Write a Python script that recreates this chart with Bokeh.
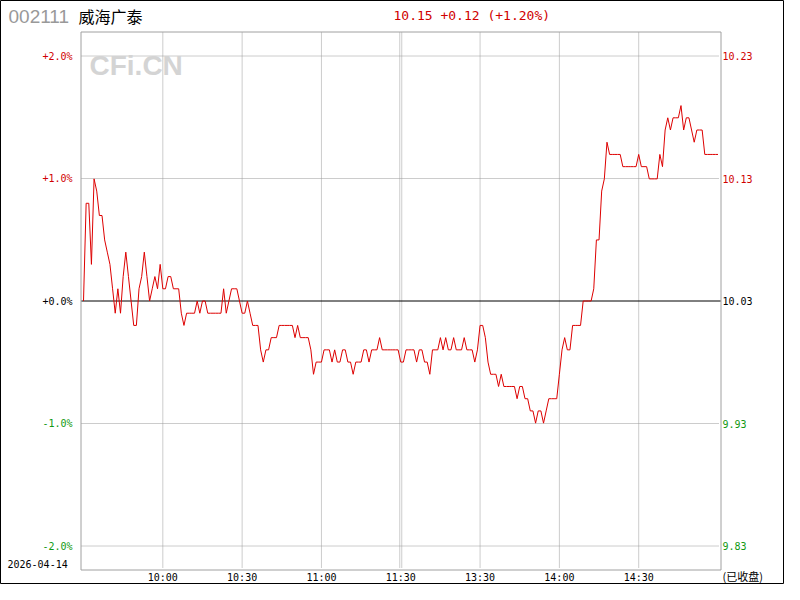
from bokeh.plotting import figure
from bokeh.models import Range1d, ColumnDataSource
from bokeh.core.properties import value
from bokeh.embed import file_html
from bokeh.resources import INLINE

# ---------------- data ----------------
stock_code = "002111"
stock_name = "威海广泰"
trade_date = "2026-04-14"
status_text = "(已收盘)"
watermark = "CFi.CN"
prev_close = 10.03
last_price = 10.15

# one price per minute, 09:30 .. 11:30, 13:01 .. 15:00
prices = [
    10.03, 10.11, 10.11, 10.06, 10.13, 10.12, 10.10, 10.10, 10.08, 10.07,
    10.06, 10.04, 10.02, 10.04, 10.02, 10.05, 10.07, 10.05, 10.03, 10.01,
    10.01, 10.04, 10.05, 10.07, 10.05, 10.03, 10.04, 10.05, 10.04, 10.06,
    10.04, 10.04, 10.05, 10.05, 10.04, 10.04, 10.04, 10.02, 10.01, 10.02,
    10.02, 10.02, 10.02, 10.03, 10.02, 10.03, 10.03, 10.02, 10.02, 10.02,
    10.02, 10.02, 10.02, 10.04, 10.02, 10.03, 10.04, 10.04, 10.04, 10.03,
    10.02, 10.02, 10.03, 10.02, 10.01, 10.01, 10.01, 9.99, 9.98, 9.99,
    9.99, 10.00, 10.00, 10.00, 10.01, 10.01, 10.01, 10.01, 10.01, 10.01,
    10.00, 10.01, 10.00, 10.00, 10.00, 10.00, 9.99, 9.97, 9.98, 9.98,
    9.98, 9.99, 9.99, 9.99, 9.98, 9.99, 9.98, 9.98, 9.99, 9.99,
    9.98, 9.98, 9.97, 9.98, 9.98, 9.98, 9.99, 9.99, 9.98, 9.99,
    9.99, 9.99, 10.00, 9.99, 9.99, 9.99, 9.99, 9.99, 9.99, 9.99,
    9.98, 9.98, 9.99, 9.99, 9.99, 9.99, 9.98, 9.99, 9.99, 9.98,
    9.98, 9.97, 9.99, 9.99, 9.99, 10.00, 9.99, 10.00, 9.99, 9.99,
    10.00, 9.99, 9.99, 9.99, 10.00, 9.99, 9.99, 9.99, 9.98, 9.99,
    10.01, 10.01, 10.00, 9.98, 9.97, 9.97, 9.97, 9.96, 9.97, 9.96,
    9.96, 9.96, 9.96, 9.96, 9.95, 9.96, 9.96, 9.95, 9.95, 9.94,
    9.94, 9.93, 9.94, 9.94, 9.93, 9.94, 9.95, 9.95, 9.95, 9.95,
    9.97, 9.99, 10.00, 9.99, 9.99, 10.01, 10.01, 10.01, 10.01, 10.03,
    10.03, 10.03, 10.03, 10.04, 10.08, 10.08, 10.12, 10.13, 10.16, 10.15,
    10.15, 10.15, 10.15, 10.15, 10.14, 10.14, 10.14, 10.14, 10.14, 10.14,
    10.15, 10.14, 10.14, 10.14, 10.13, 10.13, 10.13, 10.13, 10.15, 10.14,
    10.17, 10.18, 10.17, 10.18, 10.18, 10.18, 10.19, 10.17, 10.18, 10.18,
    10.17, 10.16, 10.17, 10.17, 10.17, 10.15, 10.15, 10.15, 10.15, 10.15,
    10.15,
]
minutes = list(range(len(prices)))

pct_ticks = [2.0, 1.0, 0.0, -1.0, -2.0]
time_tick_minutes = [30, 60, 90, 120, 150, 180, 210]
time_tick_labels = ["10:00", "10:30", "11:00", "11:30", "13:30", "14:00", "14:30"]

# ---------------- layout (picture pixels) ----------------
W, H = 784, 584
X0 = 83.0          # x of 09:30
PX_MIN = 2.6438    # px per minute
Y0 = 300.5         # y of previous close (pixel centre)
PX_PCT = 122.5     # px per 1 %
PPX = prev_close / 100.0 / PX_PCT


def wx(px):
    return (px - X0) / PX_MIN


def wy(py):
    return prev_close + (Y0 - py) * PPX


RED = "#d00000"
GREEN = "#119911"
GRID = "#999999"
FRAME = "#a0a0a0"
MONO = value("DejaVu Sans Mono")

p = figure(width=W, height=H, title=None,
           x_range=Range1d(wx(0), wx(W)),
           y_range=Range1d(wy(H), wy(0)),
           x_axis_location=None, y_axis_location=None,
           min_border=0, toolbar_location=None, output_backend="svg",
           background_fill_color="white", border_fill_color="white",
           outline_line_color="black", outline_line_width=1)
p.grid.visible = False

# dotted horizontal grid
h_levels = [prev_close * (1 + t / 100.0) for t in pct_ticks if t != 0]
p.segment(x0=[wx(81)] * len(h_levels), x1=[wx(719)] * len(h_levels),
          y0=h_levels, y1=h_levels, line_color=GRID, line_width=1, line_dash="1 1")
# dotted vertical grid (double line at the lunch break)
v_pos = []
for m in time_tick_minutes:
    if m == 120:
        v_pos += [m - 0.38, m + 0.38]
    else:
        v_pos.append(m)
p.segment(x0=v_pos, x1=v_pos, y0=[wy(32)] * len(v_pos), y1=[wy(568)] * len(v_pos),
          line_color=GRID, line_width=1, line_dash="1 1")

# plot frame
p.quad(left=[wx(80.5)], right=[wx(720.5)], top=[wy(31.5)], bottom=[wy(569.5)],
       fill_color=None, line_color=FRAME, line_width=1)

# zero line
p.segment(x0=[wx(81)], x1=[wx(720)], y0=[prev_close], y1=[prev_close],
          line_color="black", line_width=1)

# price line
p.line(minutes, prices, line_color="#dd0000", line_width=1)

# tick labels
tick_prices = [prev_close * (1 + t / 100.0) for t in pct_ticks]
tick_colors = [RED if t > 0 else ("black" if t == 0 else GREEN) for t in pct_ticks]
left_src = ColumnDataSource(dict(
    x=[wx(72)] * len(pct_ticks), y=tick_prices,
    text=[f"{t:+.1f}%" for t in pct_ticks], color=tick_colors))
p.text(x="x", y="y", text="text", text_color="color", source=left_src,
       text_font=MONO, text_font_size=value("10px"),
       text_align="right", text_baseline="middle")
right_src = ColumnDataSource(dict(
    x=[wx(722)] * len(pct_ticks), y=tick_prices,
    text=[f"{v:.2f}" for v in tick_prices], color=tick_colors))
p.text(x="x", y="y", text="text", text_color="color", source=right_src,
       text_font=MONO, text_font_size=value("10px"),
       text_align="left", text_baseline="middle")

# time labels
p.text(x=time_tick_minutes, y=[wy(577)] * len(time_tick_minutes), text=time_tick_labels,
       text_color="black", text_font=MONO, text_font_size=value("10px"),
       text_align="center", text_baseline="middle")

# date / status
p.text(x=[wx(7)], y=[wy(563)], text=[trade_date], text_color="black",
       text_font=MONO, text_font_size=value("10px"),
       text_align="left", text_baseline="middle")
p.text(x=[wx(722)], y=[wy(575)], text=[status_text], text_color="black",
       text_font=value("Noto Sans CJK SC"), text_font_size=value("11px"),
       text_align="left", text_baseline="middle")

# header
p.text(x=[wx(8)], y=[wy(16)], text=[stock_code], text_color="#999999",
       text_font=value("Liberation Sans"), text_font_size=value("19px"),
       text_align="left", text_baseline="middle")
p.text(x=[wx(78)], y=[wy(15)], text=[stock_name], text_color="black",
       text_font=value("Noto Sans CJK SC"), text_font_size=value("16px"),
       text_align="left", text_baseline="middle")
chg = last_price - prev_close
quote = f"{last_price:.2f} {chg:+.2f} ({chg / prev_close * 100:+.2f}%)"
p.text(x=[wx(393)], y=[wy(15)], text=[quote], text_color=RED,
       text_font=MONO, text_font_size=value("13px"),
       text_align="left", text_baseline="middle")

# watermark
p.text(x=[wx(89)], y=[wy(65)], text=[watermark], text_color="#d4d4d4",
       text_font=value("Liberation Sans"), text_font_size=value("28px"),
       text_font_style="bold", text_align="left", text_baseline="middle")

open("out.html", "w").write(file_html(p, INLINE))
